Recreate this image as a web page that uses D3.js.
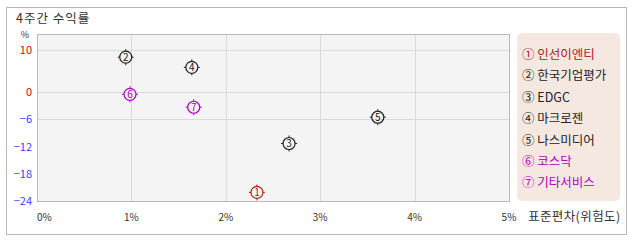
<!DOCTYPE html>
<html>
<head>
<meta charset="utf-8">
<script src="https://cdn.jsdelivr.net/npm/d3@7"></script>
<style>
body { margin: 0; background: #fff; }
text { font-family: "Noto Sans CJK KR", "DejaVu Sans", sans-serif; }
</style>
</head>
<body>
<div id="chart"></div>
<script>
// data
var names = ["인선이엔티", "한국기업평가", "EDGC", "마크로젠", "나스미디어", "코스닥", "기타서비스"];
var marks = ["1", "2", "3", "4", "5", "6", "7"];
var circled = ["①", "②", "③", "④", "⑤", "⑥", "⑦"];
var risk = [2.33, 0.94, 2.67, 1.64, 3.61, 0.985, 1.66];      // 표준편차 %
var returns = [-22.1, 8.3, -11.3, 5.9, -5.5, -0.45, -3.3];   // 4주간 수익률 %
var colors = ["#b0201c", "#222", "#222", "#222", "#222", "#b000c0", "#b000c0"];
var xTicks = [0, 1, 2, 3, 4, 5];
var yTicks = [10, 0, -6, -12, -18, -24];
var yGrid = [10, 0, -6];

var width = 638, height = 242;
var plotLeft = 37, plotRight = 509, plotTop = 34, plotBottom = 201;

var svg = d3.select("#chart").append("svg")
  .attr("width", width)
  .attr("height", height);

// outer frame
svg.append("rect")
  .attr("x", 6.5).attr("y", 7.5)
  .attr("width", 620).attr("height", 227)
  .attr("fill", "#fff")
  .attr("stroke", "#bbb");

svg.append("text")
  .attr("x", 16).attr("y", 23)
  .attr("font-size", 12.5).attr("fill", "#333")
  .attr("letter-spacing", 1)
  .text("4주간 수익률");

var x = d3.scaleLinear().domain([0, 5]).range([plotLeft, plotRight]);
// the y axis is not even: 0..10 is squeezed compared with 0..-24
var y = d3.scaleLinear().domain([-24, 0, 10, 13.7]).range([plotBottom, 92.3, 50, plotTop]);

svg.append("rect")
  .attr("x", plotLeft).attr("y", plotTop)
  .attr("width", plotRight - plotLeft).attr("height", plotBottom - plotTop)
  .attr("fill", "#f4f4f4");

svg.selectAll(".vgrid")
  .data(xTicks.slice(1, -1))
  .enter().append("line")
  .attr("x1", function(d) { return Math.round(x(d)) + 0.5; })
  .attr("x2", function(d) { return Math.round(x(d)) + 0.5; })
  .attr("y1", plotTop).attr("y2", plotBottom)
  .attr("stroke", "#dadada");

svg.selectAll(".hgrid")
  .data(yGrid)
  .enter().append("line")
  .attr("x1", plotLeft).attr("x2", plotRight)
  .attr("y1", function(d) { return Math.round(y(d)) + 0.5; })
  .attr("y2", function(d) { return Math.round(y(d)) + 0.5; })
  .attr("stroke", "#dadada");

svg.append("rect")
  .attr("x", plotLeft + 0.5).attr("y", plotTop + 0.5)
  .attr("width", plotRight - plotLeft).attr("height", plotBottom - plotTop)
  .attr("fill", "none")
  .attr("stroke", "#bbb");

// y axis labels
svg.append("text")
  .attr("x", 25).attr("y", 38)
  .attr("text-anchor", "middle")
  .attr("font-size", 9).attr("fill", "#333")
  .text("%");

svg.selectAll(".ylab")
  .data(yTicks)
  .enter().append("text")
  .attr("x", 32)
  .attr("y", function(d) { return y(d) + 4; })
  .attr("text-anchor", "end")
  .attr("font-size", 11)
  .attr("fill", function(d) { return d >= 0 ? "#e00000" : "#3b3bff"; })
  .text(function(d) { return d < 0 ? "\u2212" + (-d) : d; });

// x axis labels
svg.selectAll(".xlab")
  .data(xTicks)
  .enter().append("text")
  .attr("x", function(d) { return x(d); })
  .attr("y", 221)
  .attr("text-anchor", function(d) { return d == 0 ? "start" : "middle"; })
  .attr("font-size", 10).attr("fill", "#333")
  .text(function(d) { return d + "%"; });

svg.append("text")
  .attr("x", 528).attr("y", 221)
  .attr("font-size", 12.5).attr("fill", "#333")
  .attr("letter-spacing", 0.4)
  .text("표준편차(위험도)");

// points
var pts = svg.selectAll(".pt")
  .data(names)
  .enter().append("g")
  .attr("transform", function(d, i) {
    return "translate(" + x(risk[i]) + "," + y(returns[i]) + ")";
  });

pts.append("circle")
  .attr("r", 6)
  .attr("fill", "none")
  .attr("stroke", function(d, i) { return colors[i]; })
  .attr("stroke-width", 1.2);

pts.append("path")
  .attr("d", "M0,-8V-6M0,6V8M-8,0H-6M6,0H8")
  .attr("stroke", function(d, i) { return colors[i]; });

pts.append("text")
  .attr("y", 3.5)
  .attr("text-anchor", "middle")
  .attr("font-size", 10)
  .attr("fill", function(d, i) { return colors[i]; })
  .text(function(d, i) { return marks[i]; });

// legend
svg.append("rect")
  .attr("x", 517).attr("y", 33)
  .attr("width", 103).attr("height", 168)
  .attr("rx", 5)
  .attr("fill", "#f5e8e1");

svg.selectAll(".leg")
  .data(names)
  .enter().append("text")
  .attr("x", 522)
  .attr("y", function(d, i) { return 59 + i * 21.4; })
  .attr("font-size", 12.5)
  .attr("fill", function(d, i) { return colors[i]; })
  .text(function(d, i) { return circled[i] + " " + d; });
</script>
</body>
</html>
